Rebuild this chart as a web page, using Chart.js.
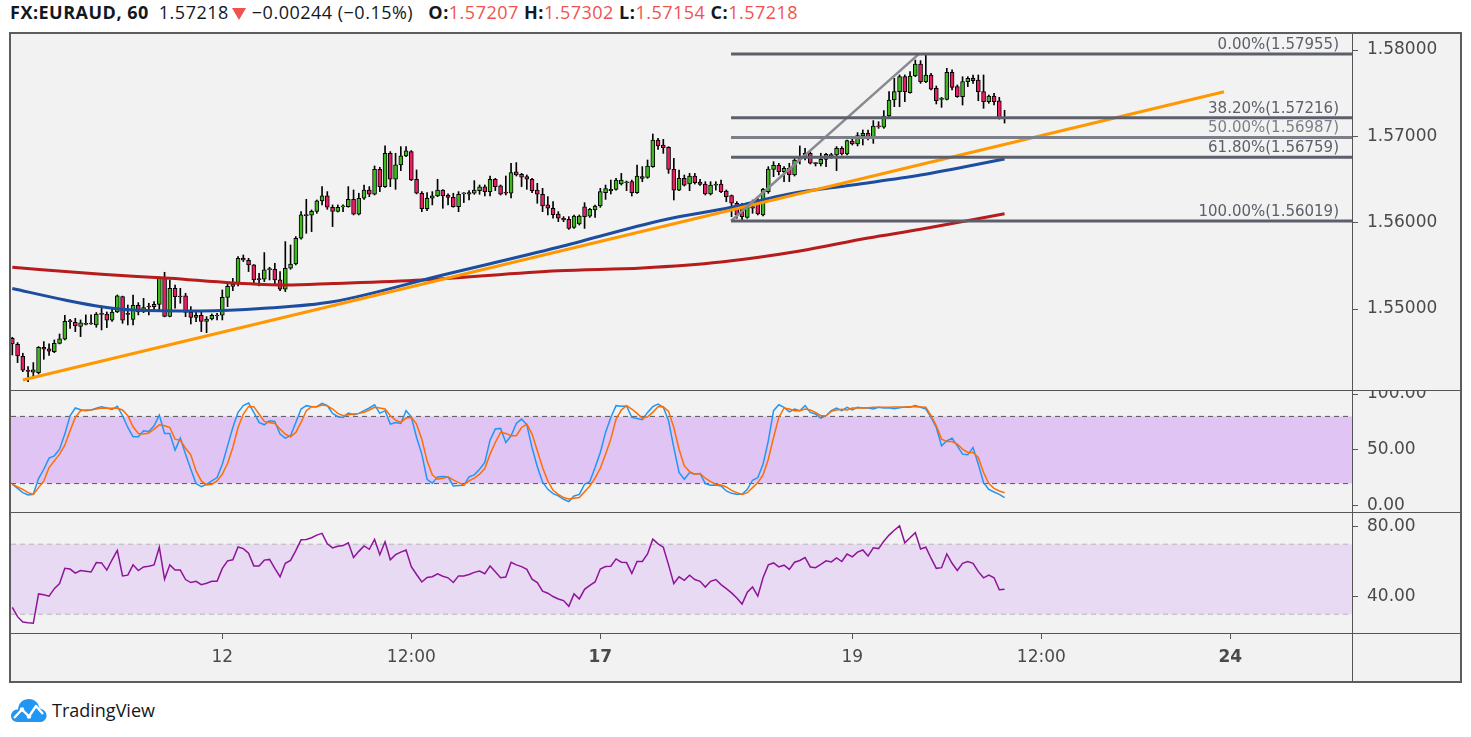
<!DOCTYPE html>
<html lang="en">
<head>
<meta charset="UTF-8">
<title>FX:EURAUD, 60</title>
<script src="https://cdn.jsdelivr.net/npm/chart.js@4.4.0/dist/chart.umd.min.js"></script>
<style>
    html, body { margin: 0; padding: 0; background: #fff; }
    body { width: 1471px; height: 737px; position: relative; overflow: hidden; font-family: 'Open Sans', sans-serif; }
    .header { position: absolute; left: 10px; top: 0; height: 26px; line-height: 25px; font-size: 18px; letter-spacing: 0.5px; color: #131722; white-space: nowrap; }
    .header b { font-weight: 700; }
    .header .dn { color: #ef5350; }
    .header .tri { display: inline-block; width: 0; height: 0; border-left: 7px solid transparent; border-right: 7px solid transparent;
        border-top: 12px solid #ef5350; margin: 0 6px 0 3px; vertical-align: -1px; }
    .header .gap { margin-left: 10px; }
    .frame { position: absolute; left: 9px; top: 32px; width: 1449px; height: 647px; border: 2px solid #5d5d5d; background: #f2f2f2; }
    .box { position: absolute; left: 11px; width: 1449px; }
    .hline { position: absolute; left: 11px; width: 1449px; height: 1px; background: #555; z-index: 2; }
    .vline { position: absolute; left: 1352px; top: 34px; width: 1px; height: 647px; background: #555; z-index: 2; }
    .logo { position: absolute; left: 10px; top: 696px; height: 28px; display: flex; align-items: center; font-size: 18px; color: #131722; }
    .logo svg { margin-right: 5px; }
</style>
</head>
<body>
<div class="header" id="header"></div>
<div class="frame"></div>
<div class="box" style="top:34px;height:356px"><canvas id="priceChart"></canvas></div>
<div class="box" style="top:391px;height:121px"><canvas id="stochChart"></canvas></div>
<div class="box" style="top:513px;height:168px"><canvas id="rsiChart"></canvas></div>
<div class="hline" style="top:390px"></div>
<div class="hline" style="top:512px"></div>
<div class="hline" style="top:633px"></div>
<div class="vline"></div>
<div class="logo">
    <svg width="37" height="26" viewBox="0 0 37 26">
        <path d="M8 25 C2 25 0 20 1.5 16.5 C3 13 6 12 8 12.5 C8.5 6 13 2 19 2 C25 2 29 6.5 29.5 11.5 C34 12 37 15.5 36.5 19.5 C36 23 33 25 30 25 Z" fill="#2196f3"/>
        <polyline points="4,21 12,12.5 19,19.5 26,9 33,17" stroke="#fff" stroke-width="2.4" fill="none" stroke-linejoin="round"/>
        <circle cx="12" cy="12.5" r="2.2" fill="#fff"/><circle cx="19" cy="19.5" r="2.2" fill="#fff"/>
    </svg>
    <span>TradingView</span>
</div>

<script>
    // hourly candles, bar index 0 = first candle on the left
    const opens = [
        1.54661, 1.54592, 1.54453, 1.54287, 1.54268, 1.54264, 1.54557, 1.54538, 1.54507, 1.54603,
        1.54650, 1.54858, 1.54847, 1.54800, 1.54823, 1.54827, 1.54816, 1.54943, 1.54943, 1.54870,
        1.54966, 1.55144, 1.54943, 1.54881, 1.55043, 1.54966, 1.55028, 1.55028, 1.55055, 1.55368,
        1.54916, 1.55240, 1.55144, 1.55152, 1.54966, 1.54904, 1.54928, 1.54858, 1.54885, 1.54920,
        1.54928, 1.55136, 1.55263, 1.55290, 1.55590, 1.55565, 1.55511, 1.55345, 1.55345, 1.55457,
        1.55461, 1.55337, 1.55229, 1.55472, 1.55522, 1.55820, 1.56090, 1.56086, 1.56132, 1.56252,
        1.56310, 1.56179, 1.56132, 1.56183, 1.56186, 1.56271, 1.56098, 1.56283, 1.56379, 1.56329,
        1.56619, 1.56418, 1.56804, 1.56503, 1.56669, 1.56773, 1.56823, 1.56503, 1.56341, 1.56163,
        1.56283, 1.56310, 1.56379, 1.56321, 1.56294, 1.56186, 1.56333, 1.56329, 1.56341, 1.56371,
        1.56414, 1.56360, 1.56503, 1.56426, 1.56345, 1.56341, 1.56588, 1.56561, 1.56534, 1.56503,
        1.56379, 1.56329, 1.56206, 1.56167, 1.56101, 1.56050, 1.56039, 1.55946, 1.55985, 1.56185,
        1.56077, 1.56147, 1.56193, 1.56348, 1.56371, 1.56386, 1.56448, 1.56463, 1.56475, 1.56348,
        1.56514, 1.56525, 1.56649, 1.56957, 1.56900, 1.56872, 1.56618, 1.56378, 1.56514, 1.56448,
        1.56541, 1.56471, 1.56448, 1.56332, 1.56436, 1.56448, 1.56367, 1.56313, 1.56225, 1.56167,
        1.56062, 1.56167, 1.56263, 1.56090, 1.56360, 1.56618, 1.56665, 1.56591, 1.56630, 1.56553,
        1.56734, 1.56765, 1.56804, 1.56688, 1.56680, 1.56734, 1.56777, 1.56784, 1.56861, 1.56796,
        1.56946, 1.56912, 1.57004, 1.57035, 1.56989, 1.57112, 1.57105, 1.57236, 1.57421, 1.57518,
        1.57691, 1.57506, 1.57699, 1.57838, 1.57634, 1.57711, 1.57556, 1.57429, 1.57429, 1.57742,
        1.57576, 1.57460, 1.57634, 1.57672, 1.57653, 1.57518, 1.57402, 1.57467, 1.57410, 1.57207
    ];
    const highs = [
        1.54673, 1.54611, 1.54488, 1.54333, 1.54380, 1.54565, 1.54623, 1.54596, 1.54642, 1.54711,
        1.54928, 1.54881, 1.54893, 1.54874, 1.54932, 1.54932, 1.54959, 1.55036, 1.54966, 1.55020,
        1.55163, 1.55150, 1.55047, 1.55163, 1.55074, 1.55124, 1.55067, 1.55086, 1.55372, 1.55426,
        1.55337, 1.55279, 1.55240, 1.55182, 1.55028, 1.54970, 1.54970, 1.54912, 1.54943, 1.54951,
        1.55221, 1.55298, 1.55356, 1.55607, 1.55626, 1.55588, 1.55515, 1.55414, 1.55654, 1.55484,
        1.55530, 1.55434, 1.55781, 1.55742, 1.55839, 1.56128, 1.56271, 1.56148, 1.56263, 1.56418,
        1.56360, 1.56206, 1.56206, 1.56206, 1.56418, 1.56379, 1.56341, 1.56437, 1.56418, 1.56657,
        1.56642, 1.56889, 1.56823, 1.56804, 1.56881, 1.56881, 1.56835, 1.56611, 1.56360, 1.56348,
        1.56360, 1.56503, 1.56383, 1.56333, 1.56341, 1.56360, 1.56348, 1.56371, 1.56487, 1.56437,
        1.56437, 1.56541, 1.56514, 1.56437, 1.56541, 1.56688, 1.56696, 1.56572, 1.56553, 1.56514,
        1.56456, 1.56398, 1.56302, 1.56244, 1.56128, 1.56070, 1.56070, 1.56089, 1.56089, 1.56232,
        1.56166, 1.56205, 1.56398, 1.56436, 1.56494, 1.56514, 1.56571, 1.56483, 1.56494, 1.56668,
        1.56649, 1.56726, 1.57027, 1.56977, 1.56965, 1.56880, 1.56745, 1.56610, 1.56552, 1.56571,
        1.56571, 1.56502, 1.56475, 1.56475, 1.56475, 1.56495, 1.56379, 1.56321, 1.56244, 1.56225,
        1.56232, 1.56263, 1.56282, 1.56398, 1.56649, 1.56707, 1.56688, 1.56649, 1.56688, 1.56746,
        1.56889, 1.56861, 1.56823, 1.56696, 1.56804, 1.56804, 1.56804, 1.56881, 1.56881, 1.56958,
        1.56997, 1.57043, 1.57074, 1.57074, 1.57182, 1.57170, 1.57298, 1.57518, 1.57672, 1.57711,
        1.57711, 1.57749, 1.57884, 1.57877, 1.57955, 1.57730, 1.57583, 1.57452, 1.57788, 1.57769,
        1.57595, 1.57691, 1.57691, 1.57711, 1.57711, 1.57711, 1.57479, 1.57498, 1.57452, 1.57302
    ];
    const lows = [
        1.54468, 1.54380, 1.54275, 1.54160, 1.54217, 1.54248, 1.54418, 1.54464, 1.54495, 1.54596,
        1.54642, 1.54777, 1.54739, 1.54681, 1.54816, 1.54823, 1.54789, 1.54758, 1.54785, 1.54858,
        1.54959, 1.54835, 1.54816, 1.54816, 1.54932, 1.54959, 1.54932, 1.54978, 1.54970, 1.54910,
        1.54910, 1.55009, 1.55067, 1.54912, 1.54827, 1.54854, 1.54739, 1.54727, 1.54874, 1.54874,
        1.54874, 1.55028, 1.55213, 1.55267, 1.55550, 1.55434, 1.55306, 1.55268, 1.55318, 1.55337,
        1.55291, 1.55213, 1.55202, 1.55461, 1.55511, 1.55808, 1.55877, 1.55897, 1.56109, 1.56206,
        1.56155, 1.55955, 1.56124, 1.56128, 1.56179, 1.56090, 1.56090, 1.56271, 1.56302, 1.56321,
        1.56360, 1.56410, 1.56418, 1.56387, 1.56603, 1.56765, 1.56487, 1.56333, 1.56128, 1.56140,
        1.56206, 1.56302, 1.56167, 1.56206, 1.56179, 1.56128, 1.56233, 1.56263, 1.56329, 1.56329,
        1.56310, 1.56310, 1.56371, 1.56321, 1.56321, 1.56287, 1.56541, 1.56418, 1.56387, 1.56348,
        1.56225, 1.56128, 1.56090, 1.56051, 1.56013, 1.56012, 1.55923, 1.55934, 1.55973, 1.55934,
        1.56062, 1.56062, 1.56178, 1.56270, 1.56332, 1.56378, 1.56436, 1.56371, 1.56309, 1.56340,
        1.56475, 1.56514, 1.56641, 1.56849, 1.56803, 1.56571, 1.56263, 1.56371, 1.56425, 1.56371,
        1.56448, 1.56432, 1.56321, 1.56321, 1.56378, 1.56348, 1.56244, 1.56070, 1.56051, 1.56019,
        1.56051, 1.56109, 1.56090, 1.56078, 1.56340, 1.56533, 1.56553, 1.56476, 1.56476, 1.56541,
        1.56680, 1.56726, 1.56680, 1.56657, 1.56657, 1.56649, 1.56746, 1.56603, 1.56784, 1.56784,
        1.56900, 1.56889, 1.56900, 1.56958, 1.56919, 1.57093, 1.57093, 1.57221, 1.57344, 1.57344,
        1.57402, 1.57500, 1.57691, 1.57614, 1.57622, 1.57537, 1.57375, 1.57336, 1.57421, 1.57537,
        1.57452, 1.57363, 1.57576, 1.57614, 1.57413, 1.57325, 1.57383, 1.57363, 1.57200, 1.57154
    ];
    const closes = [
        1.54596, 1.54457, 1.54291, 1.54279, 1.54295, 1.54557, 1.54534, 1.54511, 1.54603, 1.54654,
        1.54858, 1.54854, 1.54804, 1.54839, 1.54831, 1.54831, 1.54943, 1.54939, 1.54870, 1.54966,
        1.55152, 1.54870, 1.54939, 1.55043, 1.54966, 1.55016, 1.55024, 1.55055, 1.55368, 1.54916,
        1.55240, 1.55144, 1.55140, 1.54962, 1.54904, 1.54928, 1.54858, 1.54885, 1.54928, 1.54924,
        1.55136, 1.55263, 1.55290, 1.55588, 1.55568, 1.55511, 1.55337, 1.55341, 1.55453, 1.55461,
        1.55337, 1.55229, 1.55472, 1.55522, 1.55820, 1.56090, 1.56082, 1.56132, 1.56252, 1.56310,
        1.56179, 1.56132, 1.56179, 1.56186, 1.56271, 1.56098, 1.56283, 1.56379, 1.56329, 1.56619,
        1.56418, 1.56804, 1.56503, 1.56669, 1.56773, 1.56831, 1.56495, 1.56341, 1.56163, 1.56283,
        1.56310, 1.56379, 1.56310, 1.56294, 1.56186, 1.56329, 1.56337, 1.56348, 1.56379, 1.56414,
        1.56360, 1.56503, 1.56418, 1.56329, 1.56341, 1.56580, 1.56553, 1.56526, 1.56503, 1.56371,
        1.56329, 1.56194, 1.56167, 1.56094, 1.56051, 1.56031, 1.55934, 1.56077, 1.56077, 1.56070,
        1.56154, 1.56193, 1.56359, 1.56394, 1.56386, 1.56494, 1.56494, 1.56467, 1.56348, 1.56541,
        1.56533, 1.56656, 1.56957, 1.56888, 1.56869, 1.56618, 1.56378, 1.56514, 1.56436, 1.56541,
        1.56463, 1.56444, 1.56332, 1.56436, 1.56448, 1.56360, 1.56302, 1.56225, 1.56090, 1.56070,
        1.56205, 1.56186, 1.56101, 1.56387, 1.56622, 1.56665, 1.56591, 1.56630, 1.56553, 1.56726,
        1.56765, 1.56804, 1.56688, 1.56684, 1.56734, 1.56792, 1.56781, 1.56861, 1.56796, 1.56950,
        1.56912, 1.57008, 1.57035, 1.56997, 1.57120, 1.57109, 1.57236, 1.57421, 1.57518, 1.57691,
        1.57518, 1.57699, 1.57838, 1.57634, 1.57711, 1.57545, 1.57413, 1.57437, 1.57742, 1.57568,
        1.57460, 1.57634, 1.57672, 1.57645, 1.57518, 1.57402, 1.57467, 1.57402, 1.57207, 1.57218
    ];

    // moving averages, sampled at a few bars
    const maFastBars = [0, 10, 17, 23, 36, 48, 61, 82, 104, 124, 137, 148, 160, 173, 189];
    const maFastVals = [1.55238, 1.55105, 1.55027, 1.54989, 1.54978, 1.55009, 1.55085, 1.55394, 1.55715, 1.56031, 1.56178, 1.56332, 1.56437, 1.56552, 1.56738];
    const maSlowBars = [0, 17, 30, 42, 52, 61, 78, 104, 120, 135, 150, 163, 173, 189];
    const maSlowVals = [1.55484, 1.55403, 1.55356, 1.55302, 1.55279, 1.55296, 1.55337, 1.55444, 1.55476, 1.55545, 1.55672, 1.55823, 1.55924, 1.56104];

    // drawings
    const trendBars = [2, 230.8];
    const trendVals = [1.54179, 1.57517];
    const fibLegBars = [136.9, 172.7];
    const fibLegVals = [1.56019, 1.57955];
    const fibStart = 136.9;
    const fibPct = [0, 38.2, 50, 61.8, 100];
    const fibPrice = [1.57955, 1.57216, 1.56987, 1.56759, 1.56019];

    // stochastic %K / %D
    const stochK = [
        19.4, 15.8, 11.9, 9.9, 10.4, 24.5, 32.8, 42.7, 44.8, 50.7,
        64.2, 80.6, 87.5, 86.0, 85.1, 85.7, 87.2, 88.7, 87.5, 86.3,
        89.0, 80.6, 70.1, 61.8, 61.8, 67.2, 66.6, 71.6, 81.2, 64.8,
        64.8, 49.9, 60.6, 46.3, 32.8, 20.0, 17.3, 19.4, 22.4, 25.4,
        37.3, 53.7, 70.1, 83.6, 89.6, 91.9, 83.6, 74.6, 72.5, 76.1,
        75.5, 64.2, 60.6, 62.7, 74.6, 86.6, 89.6, 88.7, 88.7, 91.6,
        89.6, 82.7, 79.7, 79.1, 83.0, 81.5, 82.7, 85.1, 87.5, 90.4,
        82.7, 85.1, 73.1, 74.6, 73.7, 85.1, 79.7, 61.2, 46.3, 23.9,
        20.3, 26.0, 26.3, 26.0, 17.9, 18.2, 18.5, 26.0, 27.8, 32.8,
        38.8, 58.8, 68.7, 69.3, 56.7, 62.7, 73.7, 77.6, 72.5, 52.0,
        35.0, 21.5, 14.9, 11.0, 9.0, 6.0, 3.9, 9.0, 10.4, 19.4,
        21.8, 34.3, 47.8, 65.7, 79.1, 89.6, 89.0, 89.3, 79.1, 78.2,
        77.0, 83.6, 88.7, 91.0, 88.1, 76.1, 52.2, 30.0, 23.9, 29.9,
        28.4, 29.0, 20.0, 18.5, 18.8, 17.9, 13.4, 11.3, 10.4, 10.4,
        14.9, 23.0, 25.4, 37.3, 58.2, 85.1, 90.4, 88.1, 84.0, 86.6,
        85.1, 89.6, 83.6, 82.1, 78.5, 80.6, 85.1, 87.5, 85.1, 88.1,
        85.7, 88.1, 87.5, 87.5, 86.6, 88.1, 87.5, 87.8, 86.9, 87.8,
        88.4, 88.1, 89.6, 88.1, 86.6, 79.1, 70.1, 53.7, 58.2, 60.6,
        53.7, 46.3, 45.7, 52.2, 37.3, 20.9, 14.9, 12.5, 10.4, 7.5
    ];
    const stochD = [
        19.4, 17.0, 14.9, 11.9, 10.4, 16.4, 22.4, 34.3, 40.3, 46.3,
        54.3, 67.2, 79.1, 85.1, 85.7, 85.7, 86.6, 87.5, 87.2, 87.2,
        87.2, 85.7, 80.6, 70.7, 64.8, 64.2, 65.1, 68.7, 72.5, 71.6,
        70.1, 59.7, 58.8, 51.6, 45.7, 31.3, 22.4, 18.8, 19.4, 22.4,
        28.4, 37.9, 52.2, 70.1, 82.1, 88.7, 88.7, 82.1, 75.5, 74.6,
        73.7, 68.7, 64.2, 61.8, 65.7, 74.6, 85.1, 88.7, 88.7, 90.1,
        89.6, 86.6, 82.7, 80.6, 81.5, 82.1, 82.7, 83.6, 85.7, 88.1,
        87.5, 86.6, 80.6, 76.7, 74.6, 78.5, 79.1, 73.1, 59.7, 40.3,
        27.8, 23.9, 24.8, 26.0, 23.3, 20.9, 18.8, 22.4, 24.8, 28.4,
        33.4, 46.3, 56.7, 65.7, 64.8, 62.7, 62.7, 70.1, 73.1, 64.2,
        49.3, 34.3, 22.4, 14.0, 10.4, 7.5, 6.3, 6.9, 7.5, 12.8,
        17.9, 24.8, 33.7, 46.3, 59.7, 77.6, 85.7, 89.6, 86.6, 82.7,
        78.5, 79.7, 83.6, 88.7, 88.7, 84.5, 70.1, 50.7, 35.8, 30.7,
        28.4, 29.0, 24.8, 21.8, 19.4, 18.8, 17.0, 14.0, 11.9, 10.4,
        11.9, 16.4, 20.9, 27.8, 41.8, 61.2, 79.1, 87.5, 86.6, 85.1,
        85.1, 86.6, 85.7, 83.6, 80.6, 80.6, 84.5, 85.7, 86.3, 85.7,
        87.5, 87.5, 87.5, 87.8, 88.1, 88.1, 88.1, 88.1, 88.4, 88.4,
        88.1, 88.7, 88.7, 88.4, 88.1, 80.6, 71.6, 59.7, 57.6, 57.6,
        55.2, 50.7, 47.8, 47.8, 43.3, 29.9, 20.0, 15.8, 13.4, 11.9
    ];

    // RSI
    const rsi = [
        33.9, 28.6, 25.5, 25.1, 24.8, 41.6, 41.1, 40.3, 44.6, 47.5,
        56.2, 55.8, 53.5, 54.9, 54.5, 54.1, 59.5, 59.3, 55.2, 61.1,
        66.5, 51.9, 52.3, 58.2, 54.9, 57.0, 57.4, 58.2, 68.3, 50.0,
        58.2, 55.2, 55.2, 49.8, 48.1, 48.8, 46.9, 47.7, 48.8, 48.8,
        56.2, 60.5, 61.1, 68.4, 67.5, 64.8, 57.6, 57.6, 60.9, 61.3,
        56.2, 51.4, 59.1, 60.7, 66.3, 72.5, 72.7, 73.7, 75.2, 76.2,
        70.2, 67.9, 68.8, 69.2, 70.8, 62.4, 65.9, 69.0, 67.1, 72.7,
        64.0, 71.4, 61.1, 64.0, 65.5, 66.7, 57.2, 52.7, 48.4, 51.0,
        51.4, 53.1, 51.7, 50.8, 48.1, 51.9, 51.9, 52.7, 53.9, 54.7,
        53.1, 57.6, 54.3, 50.8, 51.2, 59.7, 58.2, 57.2, 55.6, 50.0,
        48.1, 43.2, 42.0, 40.1, 38.7, 37.8, 34.5, 41.6, 38.7, 44.2,
        46.5, 48.4, 55.8, 57.2, 57.4, 61.6, 59.7, 59.5, 53.3, 60.1,
        60.1, 64.4, 72.9, 70.2, 68.3, 58.2, 47.5, 51.4, 49.4, 52.3,
        49.8, 48.8, 45.5, 48.8, 49.8, 46.9, 44.6, 42.2, 39.3, 35.8,
        42.6, 45.5, 40.3, 50.8, 58.2, 59.3, 57.0, 58.0, 55.6, 59.7,
        60.7, 62.4, 57.0, 56.6, 58.5, 60.5, 59.9, 62.2, 60.1, 64.4,
        62.8, 65.5, 66.7, 63.2, 67.9, 67.5, 71.7, 75.2, 78.0, 80.5,
        70.8, 73.7, 76.6, 67.3, 68.3, 62.0, 56.2, 56.6, 64.4, 59.1,
        55.0, 59.1, 60.1, 59.1, 54.3, 50.8, 52.3, 50.8, 44.0, 44.2
    ];

    // axes
    const xTickBars = [40, 76, 112, 160, 196, 232];
    const xTickLabels = ['12', '12:00', '17', '19', '12:00', '24'];
    const xTickBold = [false, false, true, false, false, true];
    const priceTicks = [1.55, 1.56, 1.57, 1.58];
    const stochTicks = [0, 50, 100];
    const rsiTicks = [40, 80];

    const X_MIN = -0.25, X_MAX = 255.18;
    const AXIS_W = 108;

    // header from the last candle
    const last = opens.length - 1;
    document.getElementById('header').innerHTML =
        '<b>FX:EURAUD, 60</b><span class="gap"></span>' + closes[last].toFixed(5) + '<span class="tri"></span>&minus;0.00244 (&minus;0.15%) ' +
        '<b class="gap">O:</b><span class="dn">' + opens[last].toFixed(5) + '</span> ' +
        '<b>H:</b><span class="dn">' + highs[last].toFixed(5) + '</span> ' +
        '<b>L:</b><span class="dn">' + lows[last].toFixed(5) + '</span> ' +
        '<b>C:</b><span class="dn">' + closes[last].toFixed(5) + '</span>';

    const pts = (xs, ys) => ys.map((v, i) => ({x: xs[i], y: v}));
    const seq = ys => ys.map((v, i) => ({x: i, y: v}));
    const flat = v => [{x: X_MIN, y: v}, {x: X_MAX, y: v}];

    function rightAxis(min, max, ticks, digits) {
        return {
            type: 'linear', position: 'right', min: min, max: max,
            afterFit(s) { s.width = AXIS_W; s.paddingTop = 0; s.paddingBottom = 0; },
            afterBuildTicks(s) { s.ticks = ticks.map(v => ({value: v})); },
            grid: {drawOnChartArea: false, drawTicks: true, tickLength: 6, color: '#555'},
            border: {display: false},
            ticks: {padding: 9, color: '#4a4a4a', font: {family: 'DejaVu Sans', size: 17},
                callback: v => v.toFixed(digits)}
        };
    }

    function timeAxis(show) {
        return {
            type: 'linear', min: X_MIN, max: X_MAX, offset: false, display: show,
            afterFit(s) { if (show) s.height = 48; },
            afterBuildTicks(s) { s.ticks = xTickBars.map(v => ({value: v})); },
            grid: {drawOnChartArea: false, drawTicks: true, tickLength: 6, color: '#555', offset: false},
            border: {display: false},
            ticks: {
                autoSkip: false, maxRotation: 0, padding: 8, color: '#4a4a4a',
                font: ctx => ({family: 'DejaVu Sans', size: 17, weight: xTickBold[ctx.index] ? 'bold' : 'normal'}),
                callback: (v, i) => xTickLabels[i]
            }
        };
    }

    const baseOptions = {
        responsive: true,
        maintainAspectRatio: false,
        animation: false,
        events: [],
        layout: {padding: 0, autoPadding: false},
        elements: {point: {radius: 0}, line: {fill: false}},
        plugins: {legend: {display: false}, tooltip: {enabled: false}}
    };

    // fib level captions
    const fibLabels = {
        id: 'fibLabels',
        afterDatasetsDraw(chart) {
            const {ctx, chartArea, scales} = chart;
            ctx.save();
            ctx.font = '15px "DejaVu Sans"';
            ctx.textAlign = 'right';
            ctx.textBaseline = 'alphabetic';
            fibPct.forEach((p, i) => {
                const y = scales.y.getPixelForValue(fibPrice[i]);
                ctx.fillStyle = i === 2 ? '#7c7f88' : '#5d606b';
                ctx.fillText(p.toFixed(2) + '%(' + fibPrice[i].toFixed(5) + ')', chartArea.right - 13, y - 5);
            });
            ctx.restore();
        }
    };

    const fibSets = fibPrice.map((v, i) => ({
        type: 'line',
        data: [{x: fibStart, y: v}, {x: X_MAX, y: v}],
        borderColor: i === 2 ? '#7c7f88' : '#5d606b',
        borderWidth: 3,
        order: 0
    }));

    const bodyColors = closes.map((c, i) => c >= opens[i] ? '#3fb81f' : '#e91e63');

    new Chart(document.getElementById('priceChart'), {
        type: 'bar',
        data: {
            datasets: [
                ...fibSets,
                {type: 'line', data: pts(fibLegBars, fibLegVals), borderColor: '#898a90', borderWidth: 2.5, order: 1},
                {type: 'line', data: pts(trendBars, trendVals), borderColor: '#ff9800', borderWidth: 3, order: 2},
                {type: 'line', data: pts(maFastBars, maFastVals), borderColor: '#1c4da1', borderWidth: 3,
                    cubicInterpolationMode: 'monotone', order: 3},
                {type: 'line', data: pts(maSlowBars, maSlowVals), borderColor: '#b71c1c', borderWidth: 3,
                    cubicInterpolationMode: 'monotone', order: 3},
                {type: 'bar', data: opens.map((o, i) => ({x: i, y: [o, closes[i]]})),
                    backgroundColor: bodyColors, borderColor: '#000', borderWidth: 1, borderSkipped: false,
                    barThickness: 4, minBarLength: 1, grouped: false, order: 5},
                {type: 'bar', data: lows.map((l, i) => ({x: i, y: [l, highs[i]]})),
                    backgroundColor: '#000', borderWidth: 0, barThickness: 1, grouped: false, order: 6}
            ]
        },
        options: {
            ...baseOptions,
            scales: {x: timeAxis(false), y: rightAxis(1.540625, 1.581853, priceTicks, 5)}
        },
        plugins: [fibLabels]
    });

    new Chart(document.getElementById('stochChart'), {
        type: 'line',
        data: {
            datasets: [
                {data: seq(stochD), borderColor: '#ff6d00', borderWidth: 1.5, order: 0},
                {data: seq(stochK), borderColor: '#2196f3', borderWidth: 1.5, order: 1},
                {data: flat(80), borderColor: '#555', borderWidth: 1, borderDash: [5, 4], order: 2},
                {data: flat(20), borderColor: '#555', borderWidth: 1, borderDash: [5, 4], order: 3,
                    fill: {target: {value: 80}, above: '#e0c4f3', below: '#e0c4f3'}}
            ]
        },
        options: {
            ...baseOptions,
            scales: {x: timeAxis(false), y: rightAxis(-5.36, 102.68, stochTicks, 2)}
        }
    });

    new Chart(document.getElementById('rsiChart'), {
        type: 'line',
        data: {
            datasets: [
                {data: seq(rsi), borderColor: '#8e1599', borderWidth: 1.5, order: 0},
                {data: flat(70), borderColor: '#b5b5b5', borderWidth: 1, borderDash: [5, 4], order: 2},
                {data: flat(30), borderColor: '#b5b5b5', borderWidth: 1, borderDash: [5, 4], order: 3,
                    fill: {target: {value: 70}, above: '#e8daf3', below: '#e8daf3'}}
            ]
        },
        options: {
            ...baseOptions,
            scales: {x: timeAxis(true), y: rightAxis(19.26, 87.83, rsiTicks, 2)}
        }
    });
</script>
</body>
</html>
